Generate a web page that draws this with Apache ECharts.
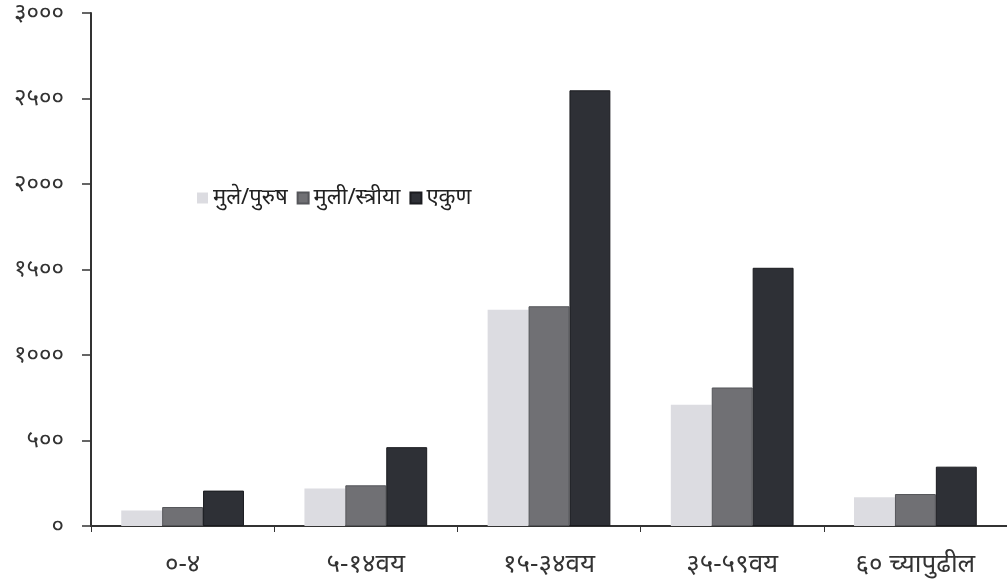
<!DOCTYPE html>
<html>
<head>
<meta charset="utf-8">
<script src="https://cdn.jsdelivr.net/npm/echarts@6/dist/echarts.min.js"></script>
<style>
html, body { margin: 0; padding: 0; background: #fff; }
#chart { width: 1007px; height: 583px; }
</style>
</head>
<body>
<div id="chart"></div>
<script>
const categories = ['०-४', '५-१४वय', '१५-३४वय', '३५-५९वय', '६० च्यापुढील'];
const boys = [90, 219, 1265, 709, 168];
const girls = [111, 238, 1285, 810, 187];
const total = [207, 461, 2548, 1510, 347];
const yTicks = {0: '०', 500: '५००', 1000: '१०००', 1500: '१५००', 2000: '२०००', 2500: '२५००', 3000: '३०००'};

const font = '"Noto Sans", "Noto Sans Devanagari", "DejaVu Sans", sans-serif';

const chart = echarts.init(document.getElementById('chart'));
chart.setOption({
	backgroundColor: '#fff',
	animation: false,
	textStyle: { fontFamily: font },
	legend: {
		left: 192,
		top: 182,
		itemWidth: 11,
		itemHeight: 11,
		itemGap: 9,
		icon: 'rect',
		textStyle: { fontSize: 22, color: '#222', padding: [0, 0, 0, 0] },
		data: ['मुले/पुरुष', 'मुली/स्त्रीया', 'एकुण']
	},
	grid: { left: 91, right: -3, top: 13, bottom: 57 },
	xAxis: {
		type: 'category',
		data: categories,
		axisLine: { lineStyle: { color: '#333', width: 2 } },
		axisTick: { show: true, length: 6, lineStyle: { color: '#333', width: 1 } },
		axisLabel: { fontSize: 26, color: '#333', margin: 26 }
	},
	yAxis: {
		type: 'value',
		min: 0,
		max: 3000,
		interval: 500,
		splitLine: { show: false },
		axisLine: { show: true, lineStyle: { color: '#333', width: 2 } },
		axisTick: { show: true, length: 9, lineStyle: { color: '#333', width: 1.5 } },
		axisLabel: {
			fontSize: 24,
			color: '#333',
			margin: 27,
			formatter: v => yTicks[v]
		}
	},
	series: [
		{
			name: 'मुले/पुरुष', type: 'bar', data: boys,
			barGap: '0%', barCategoryGap: '33%',
			itemStyle: { color: '#dcdce1' }
		},
		{
			name: 'मुली/स्त्रीया', type: 'bar', data: girls,
			itemStyle: { color: '#707074', borderColor: '#55565a', borderWidth: 1 }
		},
		{
			name: 'एकुण', type: 'bar', data: total,
			itemStyle: { color: '#2e3036', borderColor: '#1a1b1f', borderWidth: 1 }
		}
	]
});
</script>
</body>
</html>
